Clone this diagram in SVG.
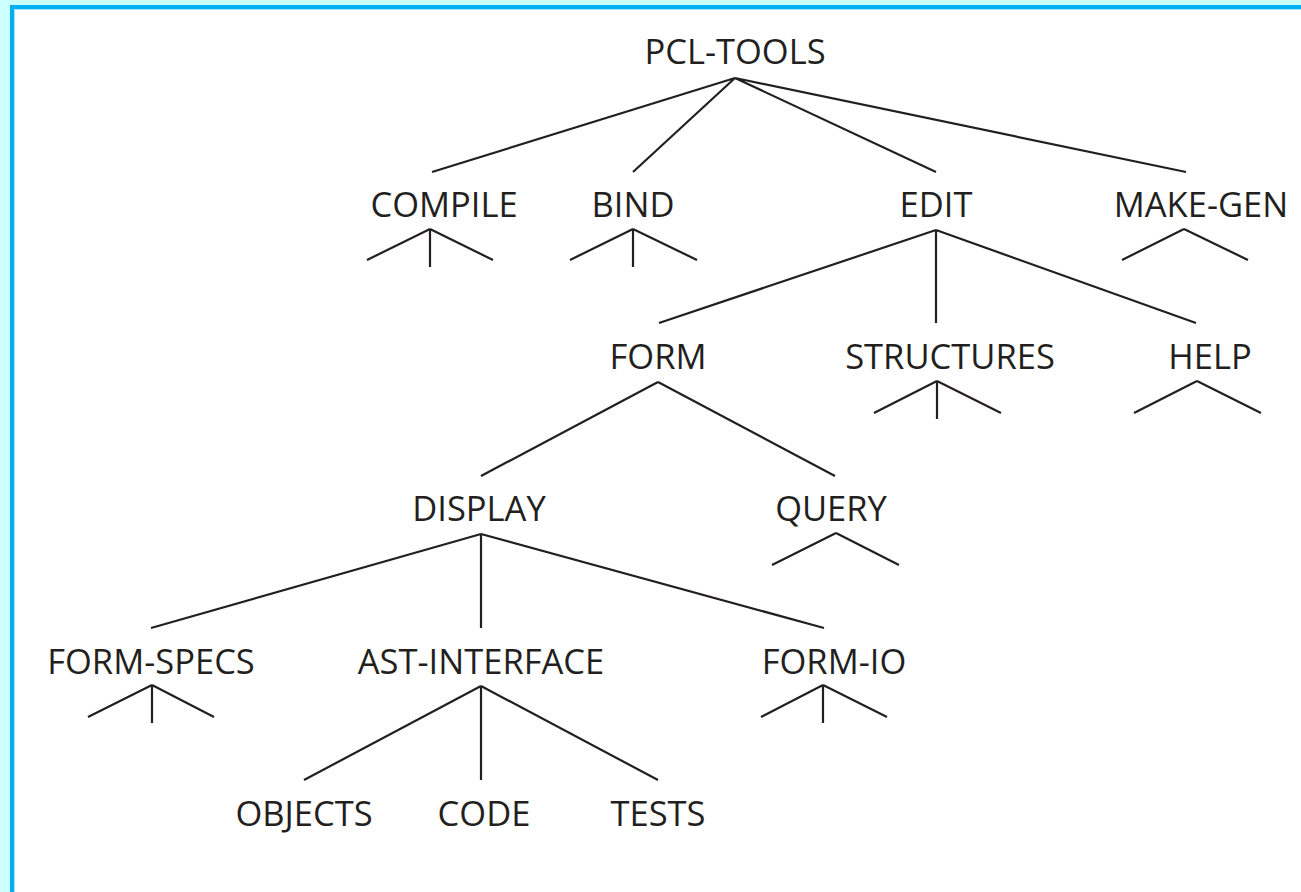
<svg xmlns="http://www.w3.org/2000/svg" width="1301" height="892" viewBox="0 0 1301 892">
<style>
.lbl{font-family:"Open Sans","Liberation Sans",sans-serif;font-size:34.5px;font-weight:500;fill:#231f20;text-anchor:middle}
.ln{stroke:#231f20;stroke-width:2.2;fill:none;stroke-linecap:butt}
</style>
<rect x="0" y="0" width="1301" height="892" fill="#ccffff"/>
<rect x="10" y="5" width="1291" height="887" fill="#00b0f0"/>
<rect x="14" y="9" width="1287" height="883" fill="#a6e6fb"/>
<rect x="15" y="10" width="1286" height="882" fill="#ffffff"/>
<g id="connectors" class="ln">
<path d="M735,78 L432,172 M735,78 L633,172 M735,78 L936,172 M735,78 L1186,172"/>
<path d="M430,229 L367,260 M430,229 L430,267 M430,229 L493,260"/>
<path d="M633,229 L570,260 M633,229 L633,267 M633,229 L697,260"/>
<path d="M1184,229 L1122,260 M1184,229 L1248,260"/>
<path d="M936,230 L659,323 M936,230 L936,323 M936,230 L1196,323"/>
<path d="M937,381 L874,413 M937,381 L937,419 M937,381 L1001,413"/>
<path d="M1197,381 L1134,413 M1197,381 L1261,413"/>
<path d="M658,382 L481,476 M658,382 L835,476"/>
<path d="M836,533 L772,565 M836,533 L899,565"/>
<path d="M481,534 L151,628 M481,534 L481,628 M481,534 L824,628"/>
<path d="M152,685 L88,717 M152,685 L152,723 M152,685 L214,717"/>
<path d="M823,685 L761,717 M823,685 L823,723 M823,685 L887,717"/>
<path d="M481,686 L304,780 M481,686 L481,780 M481,686 L658,780"/>
</g>
<g id="n-pcltools"><text class="lbl" x="735" y="64">PCL-TOOLS</text></g>
<g id="n-compile"><text class="lbl" x="444" y="217">COMPILE</text></g>
<g id="n-bind"><text class="lbl" x="633" y="217">BIND</text></g>
<g id="n-edit"><text class="lbl" x="936" y="217">EDIT</text></g>
<g id="n-makegen"><text class="lbl" x="1201" y="217">MAKE-GEN</text></g>
<g id="n-form"><text class="lbl" x="658" y="369">FORM</text></g>
<g id="n-structures"><text class="lbl" x="950" y="369">STRUCTURES</text></g>
<g id="n-help"><text class="lbl" x="1210" y="369">HELP</text></g>
<g id="n-display"><text class="lbl" x="479" y="521">DISPLAY</text></g>
<g id="n-query"><text class="lbl" x="831" y="521">QUERY</text></g>
<g id="n-formspecs"><text class="lbl" x="151" y="674">FORM-SPECS</text></g>
<g id="n-astinterface"><text class="lbl" x="481" y="674">AST-INTERFACE</text></g>
<g id="n-formio"><text class="lbl" x="834" y="674">FORM-IO</text></g>
<g id="n-objects"><text class="lbl" x="304" y="826">OBJECTS</text></g>
<g id="n-code"><text class="lbl" x="484" y="826">CODE</text></g>
<g id="n-tests"><text class="lbl" x="658" y="826">TESTS</text></g>
</svg>
